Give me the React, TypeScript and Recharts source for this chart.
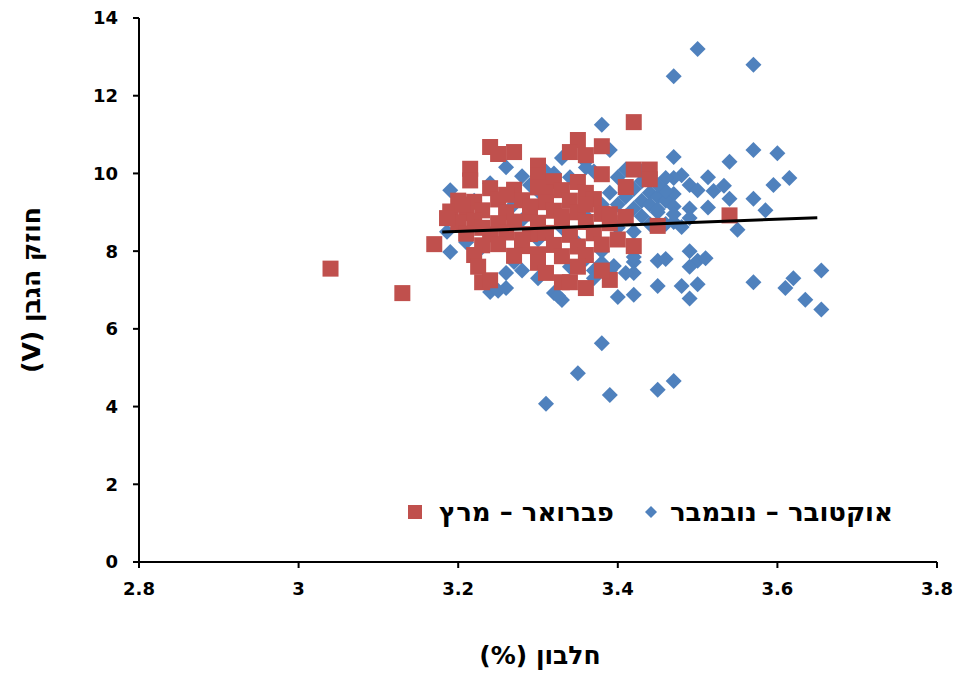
import React from "react";
import { ScatterChart, Scatter, XAxis, YAxis, Label } from "recharts";

const seriesNames = ["אוקטובר – נובמבר", "פברואר – מרץ"];
const xTitle = "חלבון (%)";
const yTitle = "חוזק הגבן (V)";
const xTicks = [2.8, 3, 3.2, 3.4, 3.6, 3.8];
const yTicks = [0, 2, 4, 6, 8, 10, 12, 14];

// אוקטובר – נובמבר [protein, strength]
const octNovPoints: [number, number][] = [
    [3.5, 13.2], [3.57, 12.8], [3.47, 12.5], [3.38, 11.25], [3.57, 10.6],
    [3.6, 10.52], [3.47, 10.42], [3.54, 10.3], [3.615, 9.88], [3.595, 9.7],
    [3.57, 9.35], [3.585, 9.05], [3.54, 9.35], [3.55, 8.55], [3.513, 9.9],
    [3.513, 9.12], [3.49, 9.7], [3.49, 9.1], [3.5, 9.57], [3.48, 9.95],
    [3.47, 9.88], [3.46, 9.88], [3.47, 9.47], [3.52, 9.55], [3.533, 9.68],
    [3.49, 8.0], [3.5, 7.75], [3.51, 7.82], [3.49, 7.6], [3.45, 7.75],
    [3.46, 7.8], [3.45, 7.1], [3.48, 7.1], [3.5, 7.15], [3.49, 6.78],
    [3.57, 7.2], [3.62, 7.3], [3.61, 7.05], [3.655, 7.5], [3.635, 6.75],
    [3.655, 6.5], [3.42, 7.72], [3.42, 7.44], [3.41, 7.44], [3.42, 6.88],
    [3.4, 6.82], [3.39, 7.5], [3.37, 7.5], [3.38, 7.7], [3.395, 7.62],
    [3.42, 7.85], [3.38, 5.63], [3.35, 4.86], [3.31, 4.07], [3.39, 4.3],
    [3.45, 4.43], [3.47, 4.66], [3.33, 6.74], [3.4, 9.2], [3.41, 9.4],
    [3.42, 9.1], [3.42, 9.6], [3.43, 9.3], [3.43, 8.9], [3.44, 9.5],
    [3.44, 9.2], [3.45, 9.0], [3.45, 9.4], [3.46, 9.3], [3.43, 9.8],
    [3.41, 8.9], [3.4, 9.9], [3.39, 9.5], [3.38, 9.2], [3.44, 8.7],
    [3.46, 8.7], [3.47, 8.75], [3.48, 8.62], [3.42, 8.5], [3.4, 8.6],
    [3.44, 9.95], [3.46, 9.55], [3.45, 9.7], [3.45, 9.08], [3.47, 9.15],
    [3.39, 10.6], [3.41, 10.1], [3.43, 10.05], [3.49, 8.85], [3.47, 8.95],
    [3.19, 9.57], [3.24, 9.75], [3.26, 10.16], [3.28, 9.93], [3.33, 10.4],
    [3.32, 10.0], [3.36, 10.3], [3.37, 10.05], [3.34, 9.9], [3.29, 9.7],
    [3.31, 10.05], [3.36, 10.15], [3.3, 9.55], [3.27, 9.2], [3.22, 9.3],
    [3.186, 8.5], [3.19, 7.98], [3.21, 8.23], [3.225, 8.67], [3.24, 6.95],
    [3.25, 6.98], [3.26, 7.05], [3.32, 6.92], [3.325, 6.85], [3.26, 7.44],
    [3.27, 7.72], [3.3, 7.3], [3.28, 7.5], [3.34, 7.6], [3.37, 7.3],
    [3.36, 7.8], [3.38, 8.0], [3.23, 8.1], [3.35, 8.2], [3.3, 8.3],
    [3.33, 8.6], [3.36, 8.9], [3.28, 8.8],
];

// פברואר – מרץ [protein, strength]
const febMarPoints: [number, number][] = [
    [3.04, 7.55], [3.13, 6.92], [3.17, 8.18], [3.42, 11.32], [3.54, 8.92],
    [3.45, 8.65], [3.24, 10.68], [3.25, 10.5], [3.27, 10.55], [3.215, 10.12],
    [3.215, 9.82], [3.3, 10.2], [3.3, 9.95], [3.35, 10.86], [3.34, 10.55],
    [3.36, 10.47], [3.38, 10.7], [3.38, 9.98], [3.42, 10.1], [3.44, 10.1],
    [3.44, 9.85], [3.41, 9.65], [3.32, 9.8], [3.35, 9.78], [3.36, 9.5],
    [3.31, 9.5], [3.24, 9.62], [3.27, 9.58], [3.3, 9.64], [3.33, 9.57],
    [3.2, 9.3], [3.22, 9.27], [3.25, 9.33], [3.28, 9.31], [3.31, 9.26],
    [3.34, 9.3], [3.37, 9.34], [3.19, 9.02], [3.21, 8.98], [3.23, 9.05],
    [3.26, 9.0], [3.29, 8.97], [3.32, 9.04], [3.35, 9.0], [3.38, 8.96],
    [3.2, 8.74], [3.22, 8.78], [3.25, 8.72], [3.27, 8.76], [3.3, 8.73],
    [3.33, 8.77], [3.36, 8.75], [3.39, 8.72], [3.21, 8.45], [3.24, 8.43],
    [3.26, 8.48], [3.29, 8.44], [3.31, 8.47], [3.34, 8.42], [3.37, 8.46],
    [3.23, 8.15], [3.25, 8.18], [3.28, 8.13], [3.32, 8.16], [3.35, 8.12],
    [3.38, 8.17], [3.22, 7.9], [3.27, 7.88], [3.3, 7.92], [3.33, 7.87],
    [3.36, 7.9], [3.225, 7.6], [3.23, 7.2], [3.24, 7.25], [3.3, 7.7],
    [3.31, 7.44], [3.33, 7.2], [3.34, 7.2], [3.36, 7.05], [3.39, 7.26],
    [3.35, 7.6], [3.38, 7.5], [3.4, 8.3], [3.42, 8.13], [3.41, 8.88],
    [3.39, 8.95], [3.186, 8.85], [3.205, 9.2], [3.26, 9.45], [3.29, 9.15],
    [3.23, 8.6], [3.28, 8.3], [3.33, 8.9], [3.36, 9.2],
];

// trend line end points
const trendPoints: [number, number][] = [[3.18, 8.49], [3.65, 8.86]];

const octNovData = octNovPoints.map(([x, y]) => ({x, y}));
const febMarData = febMarPoints.map(([x, y]) => ({x, y}));
const trendData = trendPoints.map(([x, y]) => ({x, y}));

const BLUE = "#4F81BD";
const RED = "#C0504D";

const Diamond = ({cx, cy}: any) => (
    <path d={`M${cx},${cy - 8}L${cx + 8},${cy}L${cx},${cy + 8}L${cx - 8},${cy}Z`} fill={BLUE}/>
);

const Square = ({cx, cy}: any) => (
    <rect x={cx - 8} y={cy - 8} width={16} height={16} fill={RED}/>
);

const tickStyle = {fontFamily: "DejaVu Sans", fontWeight: "bold", fontSize: 18, fill: "#000"};
const titleStyle: any = {fontFamily: "DejaVu Sans", fontWeight: "bold", fontSize: 25, fill: "#000", direction: "rtl"};

export default function App() {
    return (
        <div style={{position: "absolute", left: 0, top: 0, width: 957, height: 673, background: "#fff"}}>
            <ScatterChart
                width={957}
                height={673}
                margin={{top: 18, right: 20, left: 79, bottom: 71}}
            >
                <XAxis
                    type="number"
                    dataKey="x"
                    domain={[2.8, 3.8]}
                    ticks={xTicks}
                    height={40}
                    axisLine={{stroke: "#000", strokeWidth: 2}}
                    tickLine={{stroke: "#000", strokeWidth: 2}}
                    tickSize={6}
                    tickMargin={14}
                    tick={tickStyle}
                    allowDataOverflow
                >
                    <Label
                        content={() => (
                            <text x={540} y={655} textAnchor="middle" dominantBaseline="central" style={titleStyle}>
                                {xTitle}
                            </text>
                        )}
                    />
                </XAxis>
                <YAxis
                    type="number"
                    dataKey="y"
                    domain={[0, 14]}
                    ticks={yTicks}
                    width={60}
                    axisLine={{stroke: "#000", strokeWidth: 2}}
                    tickLine={{stroke: "#000", strokeWidth: 2}}
                    tickSize={6}
                    tickMargin={15}
                    tick={tickStyle}
                    allowDataOverflow
                >
                    <Label
                        content={() => (
                            <text x={31} y={290} transform="rotate(-90 31 290)" textAnchor="middle"
                                  dominantBaseline="central" style={titleStyle}>
                                {yTitle}
                            </text>
                        )}
                    />
                </YAxis>
                <Scatter name={seriesNames[0]} data={octNovData} shape={Diamond} isAnimationActive={false}/>
                <Scatter name={seriesNames[1]} data={febMarData} shape={Square} isAnimationActive={false}/>
                <Scatter
                    data={trendData}
                    line={{stroke: "#000", strokeWidth: 3}}
                    shape={() => <g/>}
                    isAnimationActive={false}
                />
            </ScatterChart>

            {/* legend */}
            <div
                style={{
                    position: "absolute",
                    left: 407,
                    top: 497,
                    display: "flex",
                    alignItems: "center",
                    fontFamily: "DejaVu Sans",
                    fontSize: 26,
                    fontWeight: "bold",
                    color: "#000",
                    whiteSpace: "nowrap",
                }}
            >
                <svg width={16} height={16}>
                    <rect x={1} y={1} width={14} height={14} fill={RED}/>
                </svg>
                <span style={{marginLeft: 16, direction: "rtl"}}>{seriesNames[1]}</span>
                <svg width={14} height={14} style={{marginLeft: 30}}>
                    <path d="M7,1L13,7L7,13L1,7Z" fill={BLUE}/>
                </svg>
                <span style={{marginLeft: 12, direction: "rtl"}}>{seriesNames[0]}</span>
            </div>
        </div>
    );
}
